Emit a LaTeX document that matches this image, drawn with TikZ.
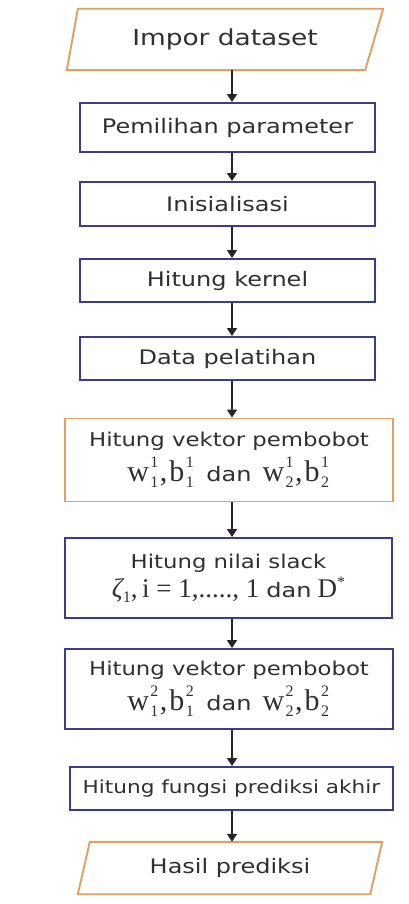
\documentclass[tikz,border=0pt]{standalone}
\usepackage{fontspec}
\setmainfont{DejaVu Sans}[FakeStretch=1.2]
\newfontfamily\symserif{Liberation Serif}
\usetikzlibrary{arrows.meta,calc}
\definecolor{boxblue}{HTML}{3C3C8C}
\definecolor{boxorange}{HTML}{E0A060}
\definecolor{inkgray}{HTML}{303030}
% serif symbol with stacked subscript (#2) and superscript (#3)
\newcommand{\scr}[1]{{\symserif\fontsize{16}{16}\selectfont #1}}
\newcommand{\idx}[3]{{\symserif\fontsize{30}{32}\selectfont #1}\kern1.5pt%
  \makebox[0pt][l]{\raisebox{14pt}{\scr{#3}}}%
  \raisebox{-6pt}{\scr{#2}}\kern1.5pt}
\newcommand{\sepc}{{\symserif\fontsize{30}{32}\selectfont ,}\kern2pt}
\newcommand{\dan}{\hspace{11pt}{\fontsize{20}{20}\selectfont dan}\hspace{11pt}}
\newcommand{\serifbig}[1]{{\symserif\fontsize{27}{28}\selectfont #1}}
\begin{document}
\begin{tikzpicture}[x=1pt,y=-1pt,
  txt/.style={font=\fontsize{20}{24}\selectfont, text=inkgray},
  twoline/.style={align=center, font=\fontsize{19}{24}\selectfont},
  procbox/.style={draw=boxblue, line width=1.9pt, rectangle, inner sep=0pt, txt},
  hotbox/.style={draw=boxorange, line width=1.9pt, rectangle, inner sep=0pt, txt},
  iobox/.style={rectangle, inner sep=0pt, txt},
  ioedge/.style={draw=boxorange, line width=1.9pt, line join=round},
  flow/.style={draw=black!85, line width=1.5pt, -{Triangle[width=10pt,length=8pt]}}]
\useasboundingbox (0,0) rectangle (408,904);
\fill[white] (0,0) rectangle (408,904);
\coordinate (ax) at (232,0);

% input
\node[iobox, minimum width=316, minimum height=61, font=\fontsize{22}{26}\selectfont] (impor) at (225,39.5) {Impor dataset};
\draw[ioedge] ($(impor.north west)+(11,0)$) -- (impor.north east)
  -- ($(impor.south east)+(-18,0)$) -- (impor.south west) -- cycle;

% processing steps
\node[procbox, minimum width=295, minimum height=49] (param) at (227.5,127.5) {Pemilihan parameter};
\node[procbox, minimum width=295, minimum height=44] (init) at (227.5,204) {Inisialisasi};
\node[procbox, minimum width=295, minimum height=43] (kernel) at (227.5,280.5) {Hitung kernel};
\node[procbox, minimum width=295, minimum height=43] (latih) at (227.5,358.5) {Data pelatihan};
\node[hotbox, twoline, minimum width=328, minimum height=83] (bobot1) at (229,460)
  {Hitung vektor pembobot\\[6pt]
   \idx{w}{1}{1}\sepc\idx{b}{1}{1}\dan\idx{w}{2}{1}\sepc\idx{b}{2}{1}};
\node[procbox, twoline, minimum width=327, minimum height=80] (slack) at (228.5,578)
  {Hitung nilai slack\\[4pt]
   {\symserif\fontsize{27}{28}\selectfont\itshape ζ}\raisebox{-5pt}{\scr{1}}%
   \serifbig{,\,i = 1,....., 1}\hspace{7pt}{\fontsize{20}{20}\selectfont dan}\hspace{6pt}%
   \serifbig{D}\raisebox{10pt}{\scr{*}}};
\node[procbox, twoline, minimum width=328, minimum height=80] (bobot2) at (229,689)
  {Hitung vektor pembobot\\[6pt]
   \idx{w}{1}{2}\sepc\idx{b}{1}{2}\dan\idx{w}{2}{2}\sepc\idx{b}{2}{2}};
\node[procbox, minimum width=323, minimum height=43, font=\fontsize{18}{21}\selectfont] (akhir) at (231.5,788.5) {Hitung fungsi prediksi akhir};

% output
\node[iobox, minimum width=304, minimum height=52] (hasil) at (230,868) {Hasil prediksi};
\draw[ioedge] ($(hasil.north west)+(12,0)$) -- (hasil.north east)
  -- ($(hasil.south east)+(-12,0)$) -- (hasil.south west) -- cycle;

% connectors
\draw[flow] (impor.south -| ax) -- (param.north -| ax);
\draw[flow] (param.south -| ax) -- (init.north -| ax);
\draw[flow] (init.south -| ax) -- (kernel.north -| ax);
\draw[flow] (kernel.south -| ax) -- (latih.north -| ax);
\draw[flow] (latih.south -| ax) -- (bobot1.north -| ax);
\draw[flow] (bobot1.south -| ax) -- (slack.north -| ax);
\draw[flow] (slack.south -| ax) -- (bobot2.north -| ax);
\draw[flow] (bobot2.south -| ax) -- (akhir.north -| ax);
\draw[flow] (akhir.south -| ax) -- (hasil.north -| ax);
\end{tikzpicture}
\end{document}
